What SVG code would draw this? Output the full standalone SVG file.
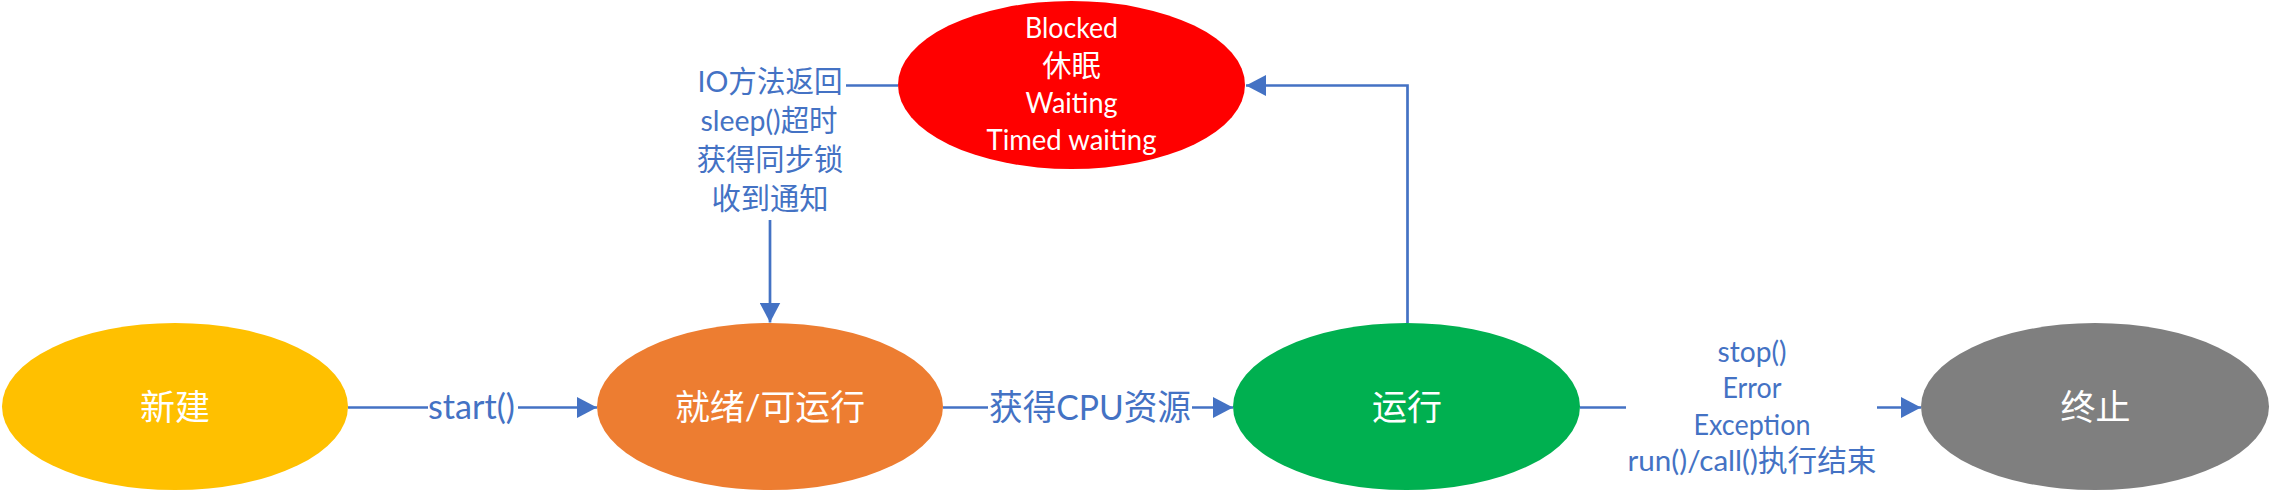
<svg xmlns="http://www.w3.org/2000/svg" width="2271" height="496" viewBox="0 0 2271 496">
<style>
.t{font-family:"Lato","Noto Sans CJK SC","Noto Sans",sans-serif;text-anchor:middle}
.node{font-size:35px;fill:#FFFFFF}
.red{font-size:29.3px;fill:#FFFFFF}
.lbl{font-size:29.3px;fill:#4472C4}
.big{font-size:35px;fill:#4472C4}
.c{fill:none;stroke:#4472C4;stroke-width:2.7}
</style>
<defs>
<marker id="arr" markerWidth="20" markerHeight="21" refX="20" refY="10.5" orient="auto" markerUnits="userSpaceOnUse" viewBox="0 0 20 21">
<path d="M0,0 L20,10.5 L0,21 z" fill="#4472C4"/>
</marker>
</defs>
<rect width="2271" height="496" fill="#FFFFFF"/>
<g id="connectors">
<line class="c" x1="348" y1="407.5" x2="428" y2="407.5"/>
<line class="c" x1="518" y1="407.5" x2="597" y2="407.5" marker-end="url(#arr)"/>
<line class="c" x1="943" y1="407.5" x2="988" y2="407.5"/>
<line class="c" x1="1192" y1="407.5" x2="1233" y2="407.5" marker-end="url(#arr)"/>
<path class="c" d="M1407.5,323 V85.5 H1246" marker-end="url(#arr)"/>
<line class="c" x1="898" y1="85.5" x2="846" y2="85.5"/>
<line class="c" x1="770" y1="220" x2="770" y2="322.5" marker-end="url(#arr)"/>
<line class="c" x1="1580" y1="407.5" x2="1626" y2="407.5"/>
<line class="c" x1="1877" y1="407.5" x2="1921" y2="407.5" marker-end="url(#arr)"/>
<text class="t big" x="471.5" y="419" textLength="87" lengthAdjust="spacingAndGlyphs">start()</text>
<text class="t big" x="1090" y="420" textLength="202" lengthAdjust="spacingAndGlyphs">获得CPU资源</text>
<g id="label-wake">
<text class="t lbl" x="770" y="92" textLength="145" lengthAdjust="spacingAndGlyphs">IO方法返回</text>
<text class="t lbl" x="769" y="131" textLength="137" lengthAdjust="spacingAndGlyphs">sleep()超时</text>
<text class="t lbl" x="770" y="170">获得同步锁</text>
<text class="t lbl" x="770" y="209">收到通知</text>
</g>
<g id="label-end">
<text class="t lbl" x="1752" y="361.5" textLength="69" lengthAdjust="spacingAndGlyphs">stop()</text>
<text class="t lbl" x="1752" y="398" textLength="59" lengthAdjust="spacingAndGlyphs">Error</text>
<text class="t lbl" x="1752" y="434.5" textLength="117" lengthAdjust="spacingAndGlyphs">Exception</text>
<text class="t lbl" x="1752" y="471" textLength="249" lengthAdjust="spacingAndGlyphs">run()/call()执行结束</text>
</g>
</g>
<g id="node-new">
<ellipse cx="175" cy="406.5" rx="173" ry="83.5" fill="#FFC000"/>
<text class="t node" x="175" y="420">新建</text>
</g>
<g id="node-ready">
<ellipse cx="770" cy="406.5" rx="173" ry="83.5" fill="#ED7D31"/>
<text class="t node" x="770" y="420" textLength="190" lengthAdjust="spacingAndGlyphs">就绪/可运行</text>
</g>
<g id="node-blocked">
<ellipse cx="1071.5" cy="85" rx="173.5" ry="84" fill="#FF0000"/>
<text class="t red" x="1071.5" y="38" textLength="93" lengthAdjust="spacingAndGlyphs">Blocked</text>
<text class="t red" x="1071.5" y="76">休眠</text>
<text class="t red" x="1071.5" y="113" textLength="92" lengthAdjust="spacingAndGlyphs">Waiting</text>
<text class="t red" x="1071.5" y="150" textLength="170" lengthAdjust="spacingAndGlyphs">Timed waiting</text>
</g>
<g id="node-running">
<ellipse cx="1406.5" cy="406.5" rx="173.5" ry="83.5" fill="#00B050"/>
<text class="t node" x="1407" y="420">运行</text>
</g>
<g id="node-terminated">
<ellipse cx="2095" cy="406.5" rx="174" ry="83.5" fill="#7F7F7F"/>
<text class="t node" x="2095.5" y="420">终止</text>
</g>
</svg>
